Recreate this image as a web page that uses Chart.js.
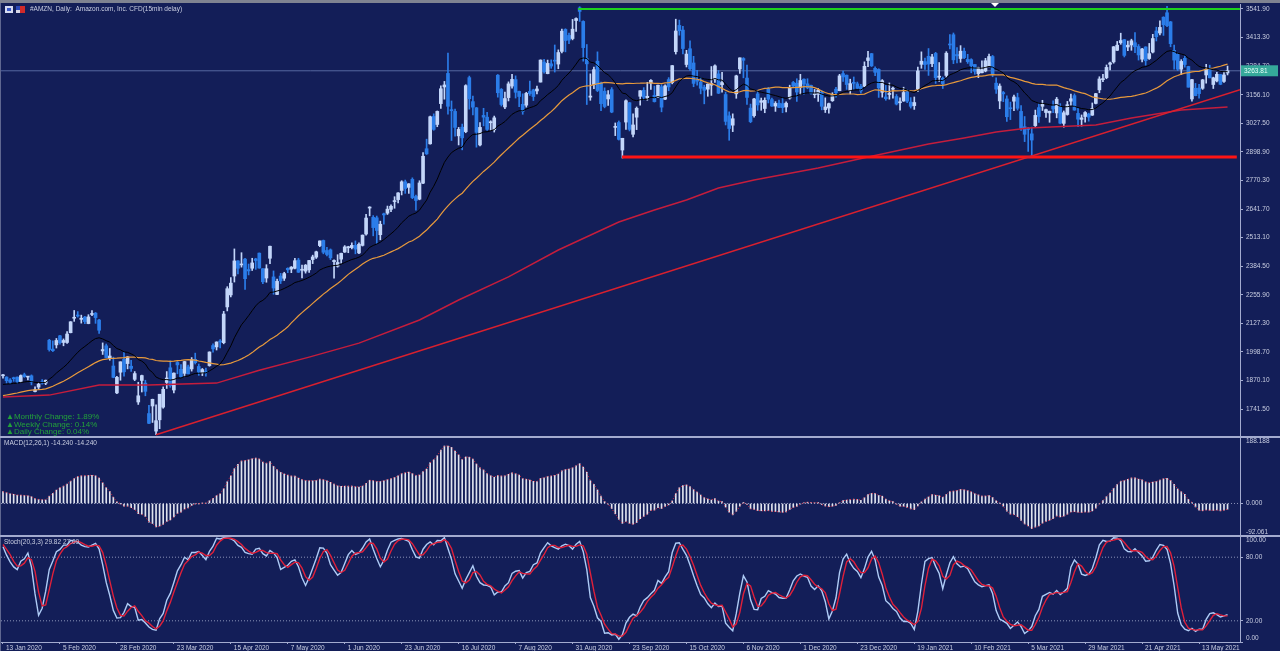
<!DOCTYPE html>
<html>
<head>
<meta charset="utf-8">
<script src="https://cdn.jsdelivr.net/npm/chart.js@4.4.1/dist/chart.umd.min.js"></script>
<style>
  html, body { margin: 0; padding: 0; background: #131e58; overflow: hidden; }
  #wrap { position: relative; width: 1280px; height: 651px; }
</style>
</head>
<body>
<div id="wrap"><canvas id="amznChart"></canvas></div>
<script>
// closes before the first visible bar (only used to warm up the indicators)
const priorCloses = [1755,1739,1753,1753,1746,1735,1746,1774,1797,1819,1801,1782,1770,1761,1740,1752,1750,1739,1749,1760,1761,1769,1791,1784,1792,1787,1793,1789,1869,1870,1847,1848,1898,1875,1903,1907,1892,1901,1883];

// daily bars, 13 Jan 2020 .. 25 May 2021
const opens = [
  1891,1885,1872,1882,1885,1865,1896,1885,1891,1820,1840,1864,1858,
  2051,2011,2030,2071,2041,2041,2085,2150,2163,2145,2155,2126,2167,2173,2142,2003,2026,1970,1935,1814,
  1907,1965,1946,1934,1875,1773,1870,1858,1721,1755,1642,1693,1750,1861,1927,1827,1951,1920,1902,1931,1922,1965,1933,1904,1912,
  1937,2027,2021,2045,2040,2201,2255,2340,2408,2390,2416,2369,2375,2417,2443,2373,2331,2420,2336,2257,2340,2330,
  2375,2371,2375,2412,2366,2362,2368,2414,2425,2477,2500,2455,2458,2405,2384,2416,2448,2467,2468,2478,
  2444,2478,2529,2646,2604,2602,2526,2620,2623,2640,2675,2684,2725,2764,2739,2775,2698,2686,2758,2913,
  2935,3058,3022,3116,3191,3252,3089,3081,2971,3010,2990,3233,3125,3097,2930,3063,3055,3030,2998,3244,
  3180,3101,3143,3195,3224,3171,3113,3109,3171,3178,3173,3213,3303,3251,3295,3310,3294,3351,3450,3423,
  3409,3490,3547,3486,3319,3145,3202,3307,3208,3172,3137,3179,3009,3031,2907,3033,3120,2978,3055,3149,
  3176,3141,3208,3153,3145,3192,3136,3224,3211,3350,3468,3447,3292,3363,3299,3222,3213,3190,3181,3199,
  3225,3250,3201,3157,3061,3019,3160,3272,3319,3231,3096,3062,3160,3122,3094,3183,3134,3105,3118,3116,
  3101,3141,3211,3208,3189,3226,3205,3198,3156,3158,3168,3089,3096,3129,3181,3174,3251,3244,3175,3212,
  3205,3193,3194,3310,3341,3275,3270,3167,3146,3157,3181,3148,3120,3128,3168,3123,3107,3181,3293,3305,
  3329,3296,3342,3235,3230,3243,3381,3426,3337,3319,3352,3315,3314,3292,3251,3255,3263,3283,3328,3208,
  3128,3166,3137,3095,3127,3143,3081,3012,3005,2980,3017,3098,3104,3076,3074,3105,3074,3102,3027,3067,
  3127,3152,3072,3045,3058,3069,3064,3117,3178,3224,3233,3293,3304,3356,3390,3404,3371,3380,3390,3373,
  3316,3371,3319,3348,3443,3434,3505,3525,3484,3356,3338,3271,3320,3283,3137,3185,3186,3185,3245,3273,
  3202,3218,3247,3216,3254
];
const highs = [
  1898,1887,1879,1885,1886,1895,1903,1889,1895,1841,1859,1874,1872,
  2055,2048,2059,2073,2057,2090,2135,2185,2180,2164,2159,2166,2185,2176,2145,2039,2034,2014,1975,1889,
  1954,1997,1978,1961,1910,1862,1894,1871,1758,1786,1760,1807,1841,1910,1958,1904,1955,1941,1956,1939,1973,1993,1944,1924,1926,
  1999,2035,2044,2054,2181,2292,2333,2462,2410,2445,2420,2394,2420,2420,2444,2373,2391,2475,2363,2326,2352,2357,
  2377,2383,2420,2420,2389,2392,2411,2434,2452,2498,2502,2469,2462,2413,2436,2443,2477,2474,2489,2498,
  2489,2525,2618,2652,2612,2610,2587,2623,2655,2660,2697,2716,2769,2772,2756,2782,2704,2769,2896,2956,
  3060,3070,3083,3196,3216,3344,3128,3092,3009,3024,3201,3240,3150,3099,3031,3095,3077,3039,3060,3247,
  3184,3168,3214,3248,3241,3173,3160,3167,3218,3181,3195,3313,3315,3312,3313,3380,3358,3451,3453,3434,
  3495,3502,3552,3489,3382,3250,3281,3349,3213,3187,3175,3188,3029,3038,2960,3133,3122,3070,3101,3175,
  3188,3212,3224,3195,3199,3201,3201,3233,3288,3496,3492,3464,3356,3399,3329,3266,3234,3199,3205,3283,
  3291,3265,3257,3168,3079,3070,3244,3322,3323,3289,3114,3140,3175,3141,3142,3189,3141,3125,3132,3140,
  3124,3199,3216,3228,3248,3228,3228,3199,3180,3184,3174,3142,3119,3165,3189,3248,3263,3245,3226,3236,
  3213,3203,3304,3351,3342,3282,3273,3224,3198,3209,3191,3157,3142,3190,3178,3143,3146,3280,3349,3321,
  3364,3338,3347,3301,3236,3350,3427,3434,3368,3377,3366,3338,3318,3292,3280,3309,3320,3339,3333,3232,
  3205,3171,3151,3123,3155,3163,3107,3058,3009,3010,3087,3116,3131,3092,3082,3129,3144,3116,3083,3126,
  3159,3160,3095,3065,3080,3073,3119,3162,3237,3248,3290,3303,3373,3396,3433,3405,3398,3406,3436,3382,
  3365,3372,3387,3428,3460,3489,3507,3554,3486,3379,3343,3314,3330,3284,3225,3207,3203,3225,3293,3289,
  3235,3257,3248,3258,3285
];
const lows = [
  1880,1858,1855,1866,1857,1861,1884,1872,1850,1818,1830,1853,1851,
  2002,2000,2016,2033,2026,2037,2084,2136,2155,2128,2126,2125,2162,2127,2082,1987,1972,1961,1882,1811,
  1871,1889,1922,1911,1869,1762,1818,1801,1675,1681,1626,1653,1745,1834,1839,1814,1900,1884,1889,1899,1912,1944,1893,1892,1889,
  1934,1997,2007,2017,2035,2183,2246,2313,2350,2380,2280,2345,2365,2370,2375,2306,2312,2396,2258,2256,2306,2320,
  2355,2355,2372,2356,2332,2353,2356,2396,2419,2472,2440,2431,2414,2330,2380,2398,2446,2445,2462,2440,
  2441,2475,2524,2611,2521,2487,2503,2573,2617,2630,2645,2669,2705,2712,2712,2688,2636,2683,2756,2887,
  2934,2996,3012,3094,3136,3068,2950,2970,2930,2908,2985,3091,3065,2920,2926,3016,2995,2997,2988,3145,
  3105,3093,3128,3185,3141,3102,3068,3100,3153,3130,3160,3213,3253,3250,3275,3258,3273,3344,3349,3386,
  3403,3441,3486,3307,3112,3131,3183,3170,3084,3097,3108,3075,2972,2952,2871,3000,2993,2966,2999,3109,
  3133,3131,3180,3123,3143,3079,3134,3174,3205,3339,3424,3340,3281,3265,3192,3199,3160,3115,3149,3153,
  3212,3161,3167,3020,2951,2990,3140,3252,3232,3112,3030,3055,3086,3086,3075,3119,3103,3081,3098,3075,
  3079,3136,3190,3126,3157,3158,3183,3159,3142,3126,3088,3076,3073,3126,3145,3174,3216,3180,3160,3179,
  3184,3163,3192,3282,3283,3242,3144,3145,3131,3136,3140,3110,3086,3126,3120,3096,3090,3170,3275,3270,
  3243,3282,3207,3216,3184,3235,3362,3296,3299,3302,3318,3297,3255,3248,3233,3254,3259,3281,3237,3162,
  3093,3125,3036,3044,3084,3087,2995,2945,2901,2881,3013,3031,3085,3054,3032,3075,3052,3025,3010,3064,
  3107,3086,3012,3015,3032,3037,3063,3115,3165,3215,3228,3268,3298,3355,3383,3326,3354,3356,3345,3312,
  3304,3289,3315,3344,3398,3425,3423,3462,3372,3271,3265,3247,3280,3190,3127,3151,3140,3180,3208,3232,
  3184,3214,3201,3211,3245
];
const closes = [
  1891,1869,1862,1878,1865,1892,1887,1885,1862,1828,1853,1858,1871,
  2009,2004,2050,2040,2050,2079,2134,2151,2160,2150,2135,2156,2170,2153,2096,2009,1973,1980,1884,1884,
  1954,1909,1976,1924,1901,1801,1892,1821,1677,1785,1689,1808,1830,1881,1846,1903,1940,1886,1955,1900,1964,1950,1908,1919,1907,
  1998,2012,2043,2043,2169,2283,2308,2408,2375,2394,2328,2363,2399,2410,2376,2314,2373,2474,2286,2316,2318,2351,
  2368,2380,2409,2357,2368,2389,2410,2426,2449,2498,2447,2437,2422,2410,2401,2442,2471,2472,2478,2461,
  2483,2524,2601,2647,2558,2545,2573,2615,2641,2654,2675,2714,2764,2734,2755,2693,2680,2759,2879,2890,
  3057,3000,3081,3183,3200,3104,3084,3009,3000,2962,3197,3138,3100,2987,3009,3055,3000,3034,3052,3165,
  3112,3139,3205,3225,3167,3148,3081,3162,3161,3148,3182,3312,3260,3297,3285,3307,3346,3442,3400,3402,
  3451,3499,3531,3368,3295,3150,3269,3175,3116,3103,3156,3078,3009,2955,2960,3129,3000,3020,3095,3174,
  3145,3149,3221,3125,3199,3100,3196,3191,3287,3443,3444,3364,3339,3273,3207,3217,3185,3176,3204,3207,
  3286,3163,3211,3036,3004,3048,3241,3322,3311,3144,3035,3137,3110,3129,3131,3136,3105,3117,3099,3098,
  3118,3185,3195,3168,3220,3204,3187,3163,3158,3177,3104,3101,3116,3157,3165,3241,3236,3202,3206,3207,
  3185,3173,3284,3322,3286,3257,3187,3219,3138,3162,3183,3114,3121,3166,3127,3104,3121,3263,3307,3292,
  3294,3326,3233,3238,3206,3343,3380,3313,3331,3352,3323,3305,3287,3262,3278,3269,3309,3328,3250,3181,
  3195,3160,3057,3093,3146,3095,3005,2978,3000,2952,3063,3058,3114,3089,3082,3092,3136,3028,3075,3111,
  3138,3087,3046,3052,3076,3055,3094,3161,3227,3224,3279,3299,3372,3379,3400,3333,3379,3399,3372,3335,
  3362,3309,3341,3409,3417,3459,3471,3467,3386,3312,3271,3306,3292,3190,3224,3152,3161,3223,3270,3232,
  3232,3248,3203,3245,3264
];

// one date label every 16 bars
const tickLabels = ['13 Jan 2020','5 Feb 2020','28 Feb 2020','23 Mar 2020','15 Apr 2020','7 May 2020','1 Jun 2020','23 Jun 2020','16 Jul 2020','7 Aug 2020','31 Aug 2020','23 Sep 2020','15 Oct 2020','6 Nov 2020','1 Dec 2020','23 Dec 2020','19 Jan 2021','10 Feb 2021','5 Mar 2021','29 Mar 2021','21 Apr 2021','13 May 2021'];
const labelStep = 16;
const priceTicks = [3541.9,3413.3,3284.7,3156.1,3027.5,2898.9,2770.3,2641.7,2513.1,2384.5,2255.9,2127.3,1998.7,1870.1,1741.5];
const macdTicks = [188.188, 0, -92.061];
const stochTicks = [100, 80, 20, 0];
const stochLevels = [80, 20];

// long moving average: [bar, price]
const ma200Points = [[0,1795],[13,1804],[27,1849],[41,1849],[60,1858],[72,1916],[86,1975],[100,2038],[117,2142],[128,2232],[142,2336],[156,2457],[173,2583],[183,2637],[192,2682],[201,2736],[211,2772],[229,2826],[243,2876],[260,2934],[270,2961],[279,2988],[288,3006],[307,3020],[317,3051],[331,3087],[344,3101]];
// drawn objects: [bar, price]
const resistance = [[161.6,3541.9],[347.5,3541.9]];
const support = [[173.9,2876],[346.6,2876]];
const trendLine = [[43,1626],[347.5,3179]];
const currentPrice = 3263.81;

const xMin = -0.56, xMax = 347.5;
const bgColor = '#131e58';
const axisText = '#c9cee2';
const frameColor = '#a3abcf';
const fontFamily = '"Liberation Sans", Arial, sans-serif';
const bullColor = '#c3d6fa';
const bearColor = '#2b7de9';

// indicators
const off = priorCloses.length;
const allC = priorCloses.concat(closes);
const allH = priorCloses.concat(highs);
const allL = priorCloses.concat(lows);

function ema(src, n) {
    const k = 2 / (n + 1);
    let e = src[0];
    return src.map(function(v, i) { e = i ? e + k * (v - e) : v; return e; });
}
function sma(src, n) {
    return src.map(function(_, i) {
        const s = src.slice(Math.max(0, i - n + 1), i + 1);
        return s.reduce(function(a, b) { return a + b; }, 0) / s.length;
    });
}

const emaFast = ema(allC, 20).slice(off);
const smaSlow = sma(allC, 40).slice(off);
const ema12 = ema(allC, 12), ema26 = ema(allC, 26);
const macd = ema12.map(function(v, i) { return v - ema26[i]; }).slice(off);

const num = [], den = [];
allC.forEach(function(c, i) {
    const from = Math.max(0, i - 19);
    const hh = Math.max.apply(null, allH.slice(from, i + 1));
    const ll = Math.min.apply(null, allL.slice(from, i + 1));
    num.push(c - ll); den.push(hh - ll);
});
const stochK = allC.map(function(_, i) {
    let n = 0, d = 0;
    for (let j = Math.max(0, i - 2); j <= i; j++) { n += num[j]; d += den[j]; }
    return d ? n / d * 100 : 50;
});
const stochD = sma(stochK, 3);
const kLine = stochK.slice(off), dLine = stochD.slice(off);

const pts = function(arr) { return arr.map(function(v, i) { return { x: i, y: v }; }); };
const pairs = function(arr) { return arr.map(function(p) { return { x: p[0], y: p[1] }; }); };
const candleColors = closes.map(function(c, i) { return c >= opens[i] ? bullColor : bearColor; });

function lineSet(data, axis, color, width, order, dash) {
    return {
        type: 'line', data: data, yAxisID: axis, borderColor: color, borderWidth: width,
        borderDash: dash || [], pointRadius: 0, tension: 0, order: order
    };
}

const datasets = [
    lineSet(pairs([[xMin, currentPrice], [xMax, currentPrice]]), 'y', '#56689f', 1, 6),
    {
        type: 'bar', yAxisID: 'y', order: 5, grouped: false, barThickness: 1,
        data: closes.map(function(_, i) { return { x: i, y: [lows[i], highs[i]] }; }),
        backgroundColor: candleColors, borderWidth: 0
    },
    {
        type: 'bar', yAxisID: 'y', order: 4, grouped: false, barThickness: 3, minBarLength: 1,
        data: closes.map(function(c, i) { return { x: i, y: [opens[i], c] }; }),
        backgroundColor: candleColors, borderWidth: 0
    },
    lineSet(pts(smaSlow), 'y', '#e89a3c', 1.2, 3),
    lineSet(pts(emaFast), 'y', '#000000', 1, 2),
    lineSet(pairs(ma200Points), 'y', '#c51d3c', 1.5, 2),
    lineSet(pairs(trendLine), 'y', '#d8202e', 1.5, 1),
    lineSet(pairs(support), 'y', '#ff1414', 3, 1),
    lineSet(pairs(resistance), 'y', '#1ed21e', 2, 1),

    lineSet(pairs([[xMin, 0], [xMax, 0]]), 'yMacd', '#8b93b8', 1, 3, [1, 2]),
    {
        type: 'bar', yAxisID: 'yMacd', order: 2, grouped: false, barThickness: 1,
        data: pts(macd), backgroundColor: '#dfe3ee', borderWidth: 0
    },
    lineSet(pts(macd), 'yMacd', '#e0283f', 1, 1, [1, 2]),

    lineSet(pairs([[xMin, stochLevels[0]], [xMax, stochLevels[0]]]), 'yStoch', '#8b93b8', 1, 3, [1, 2]),
    lineSet(pairs([[xMin, stochLevels[1]], [xMax, stochLevels[1]]]), 'yStoch', '#8b93b8', 1, 3, [1, 2]),
    lineSet(pts(kLine), 'yStoch', '#aecbf6', 1.4, 2),
    lineSet(pts(dLine), 'yStoch', '#e0203a', 1.4, 1)
];

const tickFont = { family: fontFamily, size: 6.5 };

function noPadding(s) {
    s.paddingTop = 0; s.paddingBottom = 0; s.paddingLeft = 0; s.paddingRight = 0;
}

function rightAxis(weight, min, max, values, fmt) {
    return {
        type: 'linear', position: 'right', stack: 'panes', stackWeight: weight, min: min, max: max,
        afterBuildTicks: function(s) { s.ticks = values.map(function(v) { return { value: v }; }); },
        afterFit: function(s) { s.width = 40; noPadding(s); },
        ticks: { callback: fmt, autoSkip: false, color: axisText, font: tickFont, padding: 3 },
        grid: { drawOnChartArea: false, tickLength: 3, color: frameColor },
        border: { color: frameColor, width: 1 }
    };
}

// panel clipping, background, captions
const mtDecor = {
    id: 'mtDecor',
    beforeDraw: function(chart) {
        const ctx = chart.ctx;
        ctx.save();
        ctx.fillStyle = bgColor;
        ctx.fillRect(0, 0, chart.width, chart.height);
        ctx.restore();
    },
    beforeDatasetDraw: function(chart, args) {
        const ys = chart.scales[args.meta.yAxisID];
        const ca = chart.chartArea;
        chart.ctx.save();
        chart.ctx.beginPath();
        chart.ctx.rect(ca.left, ys.top + 1, ca.right - ca.left, ys.bottom - ys.top - 1);
        chart.ctx.clip();
    },
    afterDatasetDraw: function(chart) {
        chart.ctx.restore();
    },
    afterDraw: function(chart) {
        const ctx = chart.ctx, s = chart.scales, w = chart.width;
        ctx.save();
        // window frame
        ctx.fillStyle = '#7f8391';
        ctx.fillRect(0, 0, w, 3);
        ctx.fillStyle = '#5f6790';
        ctx.fillRect(0, 3, 1, chart.height);
        // chart shift marker
        ctx.fillStyle = '#ffffff';
        ctx.beginPath();
        ctx.moveTo(991, 3); ctx.lineTo(999, 3); ctx.lineTo(995, 7); ctx.closePath(); ctx.fill();
        // pane separators
        ctx.strokeStyle = frameColor;
        ctx.lineWidth = 2;
        [s.yMacd.top, s.yStoch.top].forEach(function(y) {
            ctx.beginPath(); ctx.moveTo(0, y); ctx.lineTo(w, y); ctx.stroke();
        });
        // bid price tag
        const py = s.y.getPixelForValue(currentPrice);
        ctx.fillStyle = '#35a99b';
        ctx.fillRect(s.y.left + 1, py - 5.5, 37, 11);
        ctx.fillStyle = '#e6fff9';
        ctx.font = '6.5px ' + fontFamily;
        ctx.textBaseline = 'middle';
        ctx.fillText(currentPrice.toFixed(2), s.y.left + 4, py);
        // symbol icons
        ctx.fillStyle = '#d6dcf2'; ctx.fillRect(5, 6, 8, 7);
        ctx.fillStyle = '#3a58c8'; ctx.fillRect(7, 8, 4, 3);
        ctx.fillStyle = '#d8d8e8'; ctx.fillRect(16, 6, 9, 7);
        ctx.fillStyle = '#d02a2a'; ctx.fillRect(20, 6, 5, 7);
        ctx.fillStyle = '#2a48b8'; ctx.fillRect(16, 6, 4, 4);
        // captions
        ctx.fillStyle = axisText;
        ctx.fillText('#AMZN, Daily:  Amazon.com, Inc. CFD(15min delay)', 30, 9.5);
        ctx.fillText('MACD(12,26,1) -14.240 -14.240', 4, s.yMacd.top + 6);
        ctx.fillText('Stoch(20,3,3) 29.82 27.09', 4, s.yStoch.top + 6);
        ctx.fillStyle = '#23a13a';
        ctx.font = '8px ' + fontFamily;
        ctx.fillText('\u25B2Monthly Change: 1.89%', 6, 417);
        ctx.fillText('\u25B2Weekly Change: 0.14%', 6, 424.5);
        ctx.fillText('\u25B2Daily Change: 0.04%', 6, 432);
        ctx.restore();
    }
};

document.addEventListener('DOMContentLoaded', function() {
    const ctx = document.getElementById('amznChart').getContext('2d');

    new Chart(ctx, {
        data: { datasets: datasets },
        options: {
            responsive: true,
            maintainAspectRatio: false,
            animation: false,
            events: [],
            layout: { padding: { top: 4, left: 1, right: 0, bottom: 0 } },
            plugins: { legend: { display: false }, tooltip: { enabled: false } },
            scales: {
                x: {
                    type: 'linear', position: 'bottom', min: xMin, max: xMax, offset: false,
                    afterBuildTicks: function(s) {
                        s.ticks = tickLabels.map(function(_, k) { return { value: k * labelStep }; });
                    },
                    afterFit: function(s) { s.height = 9; noPadding(s); },
                    ticks: {
                        callback: function(v) { return tickLabels[v / labelStep]; },
                        align: 'start', labelOffset: 3, padding: 0, maxRotation: 0, autoSkip: false,
                        color: axisText, font: tickFont
                    },
                    grid: { drawOnChartArea: false, offset: false, tickLength: 2, color: frameColor },
                    border: { color: frameColor, width: 1 }
                },
                y: rightAxis(433, 1615.5, 3564.4, priceTicks, function(v) { return v.toFixed(2); }),
                yMacd: rightAxis(99, macdTicks[2], macdTicks[0], macdTicks, function(v) {
                    if (v === macdTicks[0]) return ['', v.toFixed(3)];
                    if (v === macdTicks[2]) return [v.toFixed(3), ''];
                    return v.toFixed(3);
                }),
                yStoch: rightAxis(106, 0, 100, stochTicks, function(v) {
                    if (v === 100) return ['', v.toFixed(2)];
                    if (v === 0) return [v.toFixed(2), ''];
                    return v.toFixed(2);
                })
            }
        },
        plugins: [mtDecor]
    });
});
</script>
</body>
</html>
